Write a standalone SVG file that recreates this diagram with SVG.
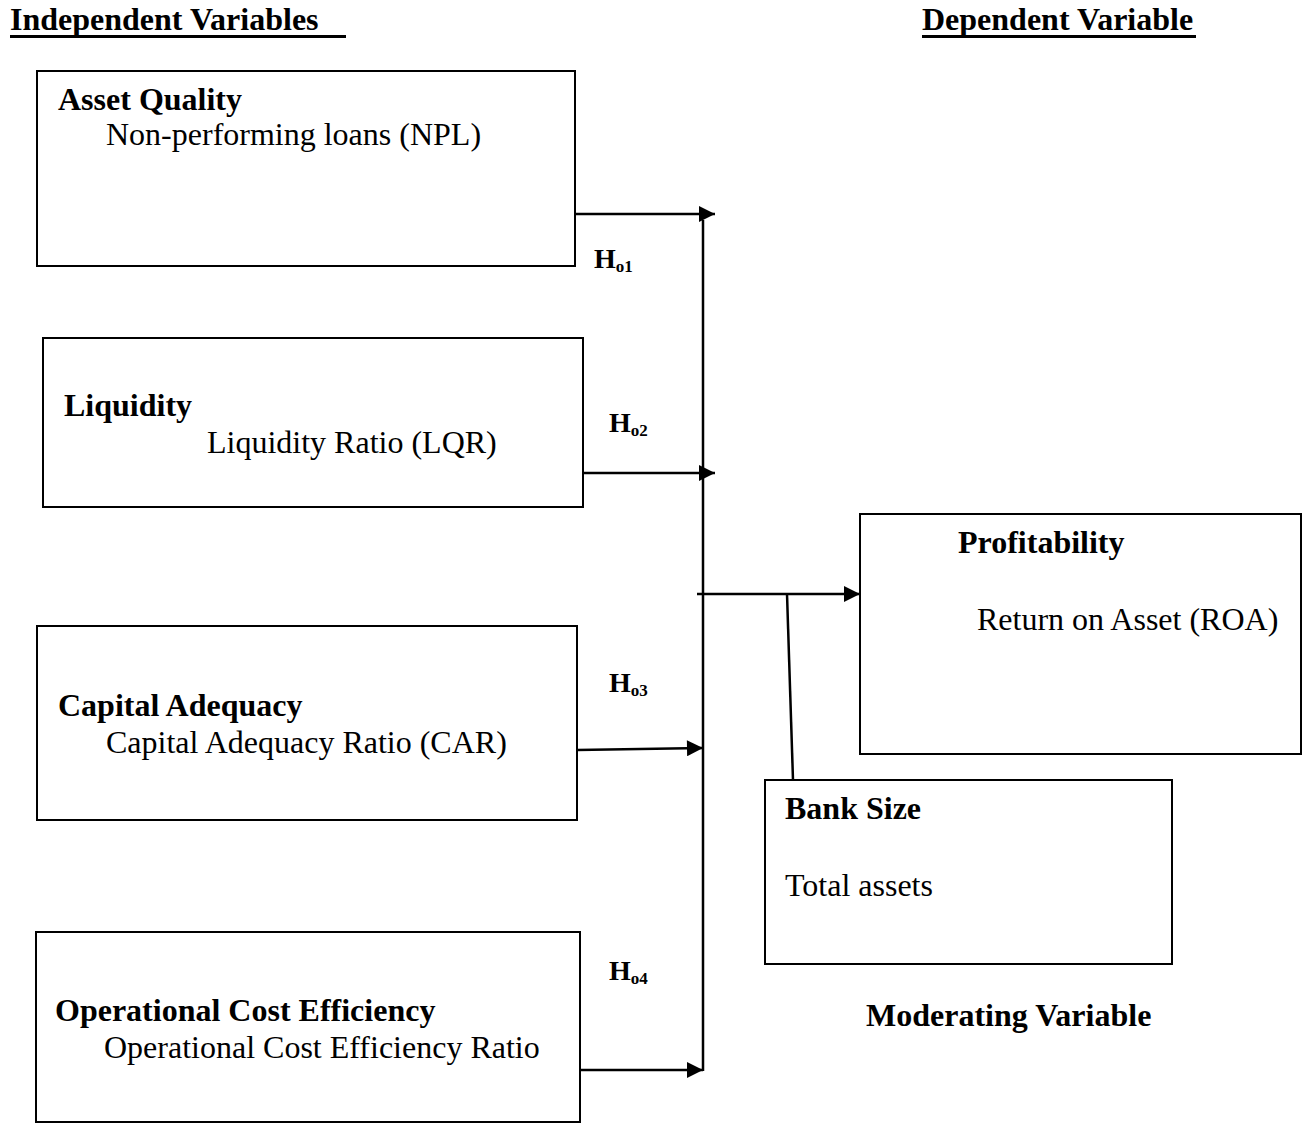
<svg xmlns="http://www.w3.org/2000/svg" width="1309" height="1124" viewBox="0 0 1309 1124">
<style>
.box{fill:#fff;stroke:#000;stroke-width:2}
.ln{stroke:#000;stroke-width:2.5;fill:none}
text{font-family:"Liberation Serif","Times New Roman",serif;fill:#000}
.t{font-size:32px}
.b{font-size:32px;font-weight:bold}
.h{font-size:28px;font-weight:bold}
.s{font-size:17px;font-weight:bold}
.u{stroke:#000;stroke-width:3}
</style>
<defs>
<marker id="ah" viewBox="0 0 10 10" refX="10" refY="5" markerWidth="17" markerHeight="16" markerUnits="userSpaceOnUse" orient="auto">
<path d="M0,0 L10,5 L0,10 Z" fill="#000"/>
</marker>
</defs>
<rect width="1309" height="1124" fill="#fff"/>
<g id="headers">
<text class="b" x="10" y="30">Independent Variables</text>
<line class="u" x1="10" y1="36.5" x2="346" y2="36.5"/>
<text class="b" x="922" y="30">Dependent Variable</text>
<line class="u" x1="922" y1="36.5" x2="1196" y2="36.5"/>
</g>
<g id="asset-quality">
<rect class="box" x="37" y="71" width="538" height="195"/>
<text class="b" x="58" y="110">Asset Quality</text>
<text class="t" x="106" y="145">Non-performing loans (NPL)</text>
</g>
<g id="liquidity">
<rect class="box" x="43" y="338" width="540" height="169"/>
<text class="b" x="64" y="416">Liquidity</text>
<text class="t" x="207" y="453">Liquidity Ratio (LQR)</text>
</g>
<g id="capital-adequacy">
<rect class="box" x="37" y="626" width="540" height="194"/>
<text class="b" x="58" y="716">Capital Adequacy</text>
<text class="t" x="106" y="753">Capital Adequacy Ratio (CAR)</text>
</g>
<g id="operational">
<rect class="box" x="36" y="932" width="544" height="190"/>
<text class="b" x="55" y="1021">Operational Cost Efficiency</text>
<text class="t" x="104" y="1058">Operational Cost Efficiency Ratio</text>
</g>
<g id="profitability">
<rect class="box" x="860" y="514" width="441" height="240"/>
<text class="b" x="958" y="553">Profitability</text>
<text class="t" x="977" y="630">Return on Asset (ROA)</text>
</g>
<g id="bank-size">
<rect class="box" x="765" y="780" width="407" height="184"/>
<text class="b" x="785" y="819">Bank Size</text>
<text class="t" x="785" y="896">Total assets</text>
</g>
<g id="labels">
<text class="h" x="594" y="268">H<tspan class="s" dy="4">o1</tspan></text>
<text class="h" x="609" y="432">H<tspan class="s" dy="4">o2</tspan></text>
<text class="h" x="609" y="692">H<tspan class="s" dy="4">o3</tspan></text>
<text class="h" x="609" y="980">H<tspan class="s" dy="4">o4</tspan></text>
<text class="b" x="866" y="1026">Moderating Variable</text>
</g>
<g id="connectors">
<line class="ln" x1="575" y1="214" x2="715" y2="214" marker-end="url(#ah)"/>
<line class="ln" x1="583" y1="473" x2="715" y2="473" marker-end="url(#ah)"/>
<line class="ln" x1="577" y1="750" x2="703" y2="748" marker-end="url(#ah)"/>
<line class="ln" x1="580" y1="1070" x2="703" y2="1070" marker-end="url(#ah)"/>
<line class="ln" x1="703" y1="220" x2="703" y2="1071"/>
<line class="ln" x1="697" y1="594" x2="860" y2="594" marker-end="url(#ah)"/>
<line class="ln" x1="787" y1="594" x2="793" y2="780"/>
</g>
</svg>
